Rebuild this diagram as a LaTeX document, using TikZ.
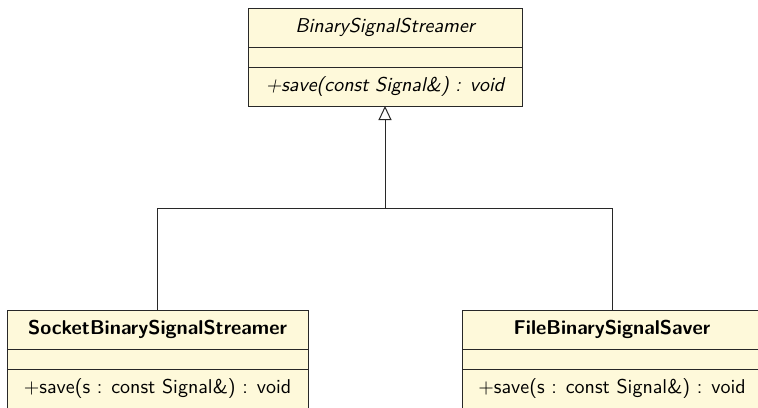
\documentclass[tikz,border=0pt]{standalone}
\usetikzlibrary{arrows.meta}
\definecolor{classfill}{RGB}{254,249,218}
\definecolor{classline}{RGB}{40,40,40}
\tikzset{
  part/.style={draw=classline, fill=classfill, line width=0.5pt, minimum width=#1,
    inner sep=0pt, outer sep=0pt, font=\sffamily\fontsize{10}{12}\selectfont},
  tallpart/.style={part=#1, minimum height=19.5pt},
  thinpart/.style={part=#1, minimum height=10pt},
  inherit/.style={draw=classline, line width=0.5pt},
  inherittip/.style={-{Triangle[open, length=7pt, width=6.5pt]}}
}
\begin{document}
\begin{tikzpicture}[x=0.5pt, y=-0.5pt]
\useasboundingbox (0,0) rectangle (758,407);
\clip (0,0) rectangle (758,407);
% abstract base class
\node[tallpart=137pt] (base) at (385,27.5) {\itshape BinarySignalStreamer};
\node[thinpart=137pt] (baseattr) at (385,57) {};
\node[tallpart=137pt] (baseop) at (385,86.5) {\itshape +save(const Signal\&) : void};
% socket implementation
\node[tallpart=150.5pt] (sock) at (157.5,329.5) {\bfseries SocketBinarySignalStreamer};
\node[thinpart=150.5pt] (sockattr) at (157.5,359) {};
\node[tallpart=150.5pt] (sockop) at (157.5,388.5) {+save(s : const Signal\&) : void};
% file implementation
\node[tallpart=150pt] (file) at (612,329.5) {\bfseries FileBinarySignalSaver};
\node[thinpart=150pt] (fileattr) at (612,359) {};
\node[tallpart=150pt] (fileop) at (612,388.5) {+save(s : const Signal\&) : void};
% generalisation
\coordinate (join) at (385,208);
\draw[inherit] (sock.north) |- (join);
\draw[inherit] (file.north) |- (join);
\draw[inherit, inherittip] (join) -- (baseop.south);
\end{tikzpicture}
\end{document}
